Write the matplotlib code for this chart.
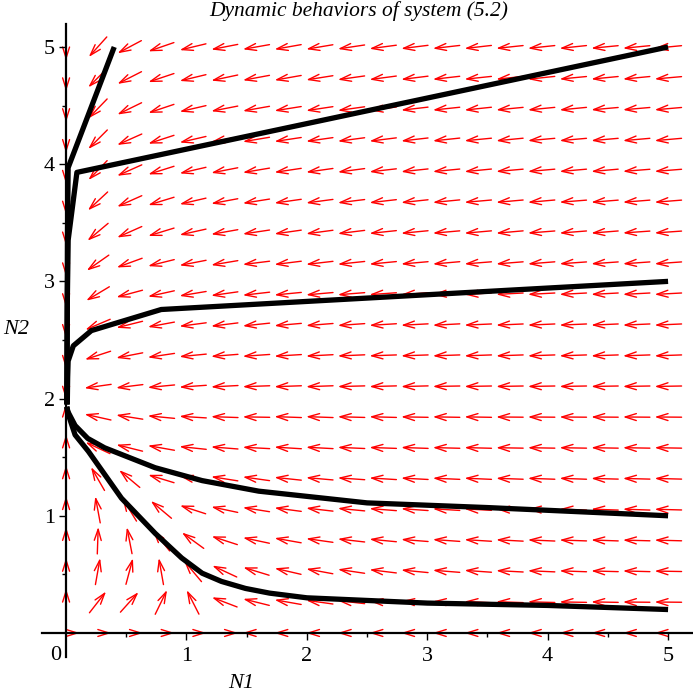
import numpy as np
import matplotlib.pyplot as plt
from matplotlib.patches import FancyArrowPatch

plt.rcParams['font.family'] = ['Liberation Serif', 'DejaVu Serif']

# direction field grid (20 x 20 over [0,5] x [0,5])
n1_grid = np.linspace(0, 5, 20)
n2_grid = np.linspace(0, 5, 20)

# arrow directions in degrees (screen space)
# first row = top row (N2 = 5), last row = bottom row (N2 = 0)
arrow_angle_deg = [
    [270, 228, 208, 199, 193.5, 191, 190, 190, 189.5, 188.5, 187.5, 187, 186.5, 186.5, 186, 186, 186, 185.5, 185.5, 185.5],
    [270, 225, 207, 198.5, 193.5, 192, 190.5, 190, 189, 188, 187.5, 187, 186.5, 186, 186, 186, 185.5, 185.5, 185.5, 185],
    [270, 226, 206, 198.5, 193, 191, 190, 189, 188.5, 188, 187, 186.5, 186, 186, 185.5, 185.5, 185.5, 185, 185, 185],
    [270, 225, 204, 198, 193, 190.5, 189.5, 188.5, 188, 187.5, 187, 186.5, 186, 185.5, 185.5, 185, 185, 185, 185, 185],
    [270, 226, 204, 197.5, 193, 191, 189.5, 188.5, 188, 187.5, 186.5, 186, 185.5, 185.5, 185, 185, 185, 185, 184.5, 184.5],
    [270, 223, 204, 197, 193, 190.5, 189, 188, 187.5, 187, 186.5, 186, 185.5, 185, 185, 185, 184.5, 184.5, 184.5, 184.5],
    [270, 220, 204, 197, 192.5, 190, 188.5, 188, 187.5, 187, 186, 185.5, 185, 185, 185, 184.5, 184.5, 184.5, 184, 184],
    [270, 215, 200, 194, 191, 189.5, 187, 187, 186.5, 186, 185.5, 185, 185, 184.5, 184.5, 184.5, 184, 184, 184, 184],
    [270, 211, 195, 192.5, 189.5, 188, 186.5, 185.5, 185, 184.5, 184, 184, 183.5, 183.5, 183, 183, 183, 183, 183, 183],
    [270, 203, 194, 190.5, 187.5, 187, 186, 185, 184.5, 184, 183.5, 183, 183, 182.5, 182.5, 182.5, 182.5, 182.5, 182.5, 182.5],
    [270, 198, 191, 188.5, 185.5, 184.5, 184, 183.5, 183, 182.5, 182, 182, 182, 182, 182, 182, 182, 182, 182, 182],
    [270, 188, 187, 185.5, 184, 183, 182, 182, 182, 181.5, 181.5, 181.5, 181, 181, 181, 181, 181, 181, 181, 181],
    [90, 167.5, 171, 174.5, 176.5, 178, 179, 178, 178, 178.5, 178.5, 179, 179, 179, 179.5, 179.5, 179.5, 179.5, 179.5, 179.5],
    [90, 155, 166, 170, 174, 175.5, 177, 176.5, 177, 177.5, 178, 178, 178.5, 178.5, 179, 179, 179, 179, 179, 179],
    [90, 120, 140, 163, 168, 171, 172, 174, 175, 176, 176.5, 177, 177.5, 177.5, 178, 178, 178, 178.5, 178.5, 178.5],
    [90, 100.5, 121.5, 140, 162, 168, 171, 172.5, 173.5, 174.5, 175.5, 176, 176.5, 177, 177.5, 177.5, 178, 178, 178, 178.5],
    [90, 88, 101, 129, 144, 162, 168, 170, 172, 173.5, 174.5, 175.5, 176, 176.5, 177, 177.5, 178, 178, 178.5, 178.5],
    [90, 80, 75, 100, 130, 155, 163, 167, 169.5, 171.5, 173, 174.5, 175.5, 176, 177, 177.5, 178, 178.5, 178.5, 179],
    [90, 52, 48, 64, 117, 159, 166, 170, 172, 173.5, 175, 176, 177, 177.5, 178, 178.5, 179, 179, 179.5, 179.5],
    [0, 0, 0, 0, 0, 0, 180, 180, 180, 180, 180, 180, 180, 180, 180, 180, 180, 180, 180, 180],
]

# solution curves (N1, N2)
traj_a_n1 = [0.40, 0.017, 0.012, 0.010, 0.008, 0.006]
traj_a_n2 = [5.00, 3.97, 3.40, 2.80, 2.30, 1.95]

traj_b_n1 = [5.00, 0.09, 0.017, 0.010, 0.008, 0.006]
traj_b_n2 = [5.00, 3.93, 3.35, 2.80, 2.30, 1.95]

traj_c_n1 = [5.00, 0.79, 0.21, 0.06, 0.017, 0.013, 0.010]
traj_c_n2 = [3.00, 2.76, 2.58, 2.45, 2.32, 2.18, 1.95]

traj_d_n1 = [0.006, 0.014, 0.075, 0.18, 0.32, 0.74, 1.13, 1.60, 2.50, 3.50, 5.00]
traj_d_n2 = [1.93, 1.89, 1.77, 1.66, 1.58, 1.41, 1.30, 1.21, 1.11, 1.07, 1.00]

traj_e_n1 = [0.006, 0.02, 0.075, 0.185, 0.46, 0.74, 0.96, 1.13, 1.29, 1.49, 1.69, 2.00, 3.00, 4.00, 5.00]
traj_e_n2 = [1.93, 1.86, 1.69, 1.55, 1.15, 0.85, 0.64, 0.51, 0.44, 0.38, 0.34, 0.30, 0.255, 0.235, 0.20]

W = 693
fig = plt.figure(figsize=(6.93, 6.93), dpi=100)
ax = fig.add_axes([42 / W, 36 / W, 651 / W, 633 / W])
ax.set_xlim(-0.2, 5.207)
ax.set_ylim(-0.205, 5.196)

# axes through the origin, Maple style
for side in ['top', 'right']:
    ax.spines[side].set_visible(False)
for side in ['left', 'bottom']:
    ax.spines[side].set_position(('data', 0))
    ax.spines[side].set_linewidth(1.6)
    ax.spines[side].set_zorder(3)

ax.set_xticks([1, 2, 3, 4, 5])
ax.set_yticks([1, 2, 3, 4, 5])
ax.set_xticks([0.5, 1.5, 2.5, 3.5, 4.5], minor=True)
ax.set_yticks([0.5, 1.5, 2.5, 3.5, 4.5], minor=True)
ax.tick_params(which='major', length=5, width=1.0, direction='out', labelsize=16)
ax.tick_params(which='minor', length=3, width=1.0, direction='out')
ax.tick_params(axis='x', pad=5)
ax.tick_params(axis='y', pad=3)
ax.text(-0.083, -0.19, '0', fontsize=16, ha='center', va='center')

# direction field arrows, all the same screen length
fig.canvas.draw()
to_disp = ax.transData
to_data = ax.transData.inverted()
half_len = 13.5  # px
for r, row in enumerate(arrow_angle_deg):
    j = len(n2_grid) - 1 - r
    for k, ang in enumerate(row):
        cx, cy = to_disp.transform((n1_grid[k], n2_grid[j]))
        dx = half_len * np.cos(np.radians(ang))
        dy = half_len * np.sin(np.radians(ang))
        tail = to_data.transform((cx - dx, cy - dy))
        head = to_data.transform((cx + dx, cy + dy))
        arr = FancyArrowPatch(tail, head, arrowstyle='->,head_length=0.8,head_width=0.25',
                              mutation_scale=10, color='#ff0000', lw=1.0,
                              shrinkA=0, shrinkB=0, zorder=1.5)
        ax.add_patch(arr)

for xs, ys in [(traj_a_n1, traj_a_n2), (traj_b_n1, traj_b_n2), (traj_c_n1, traj_c_n2),
               (traj_d_n1, traj_d_n2), (traj_e_n1, traj_e_n2)]:
    ax.plot(xs, ys, color='black', lw=3.8, solid_capstyle='butt', zorder=2)

fig.text(359 / W, 1 - 11 / W, 'Dynamic behaviors of system (5.2)', style='italic',
         fontsize=15.5, ha='center', va='center')
fig.text(241 / W, 1 - 683 / W, 'N1', style='italic', fontsize=16, ha='center', va='center')
fig.text(16 / W, 1 - 330 / W, 'N2', style='italic', fontsize=16, ha='center', va='center')

fig.savefig('out.png', dpi=100)
